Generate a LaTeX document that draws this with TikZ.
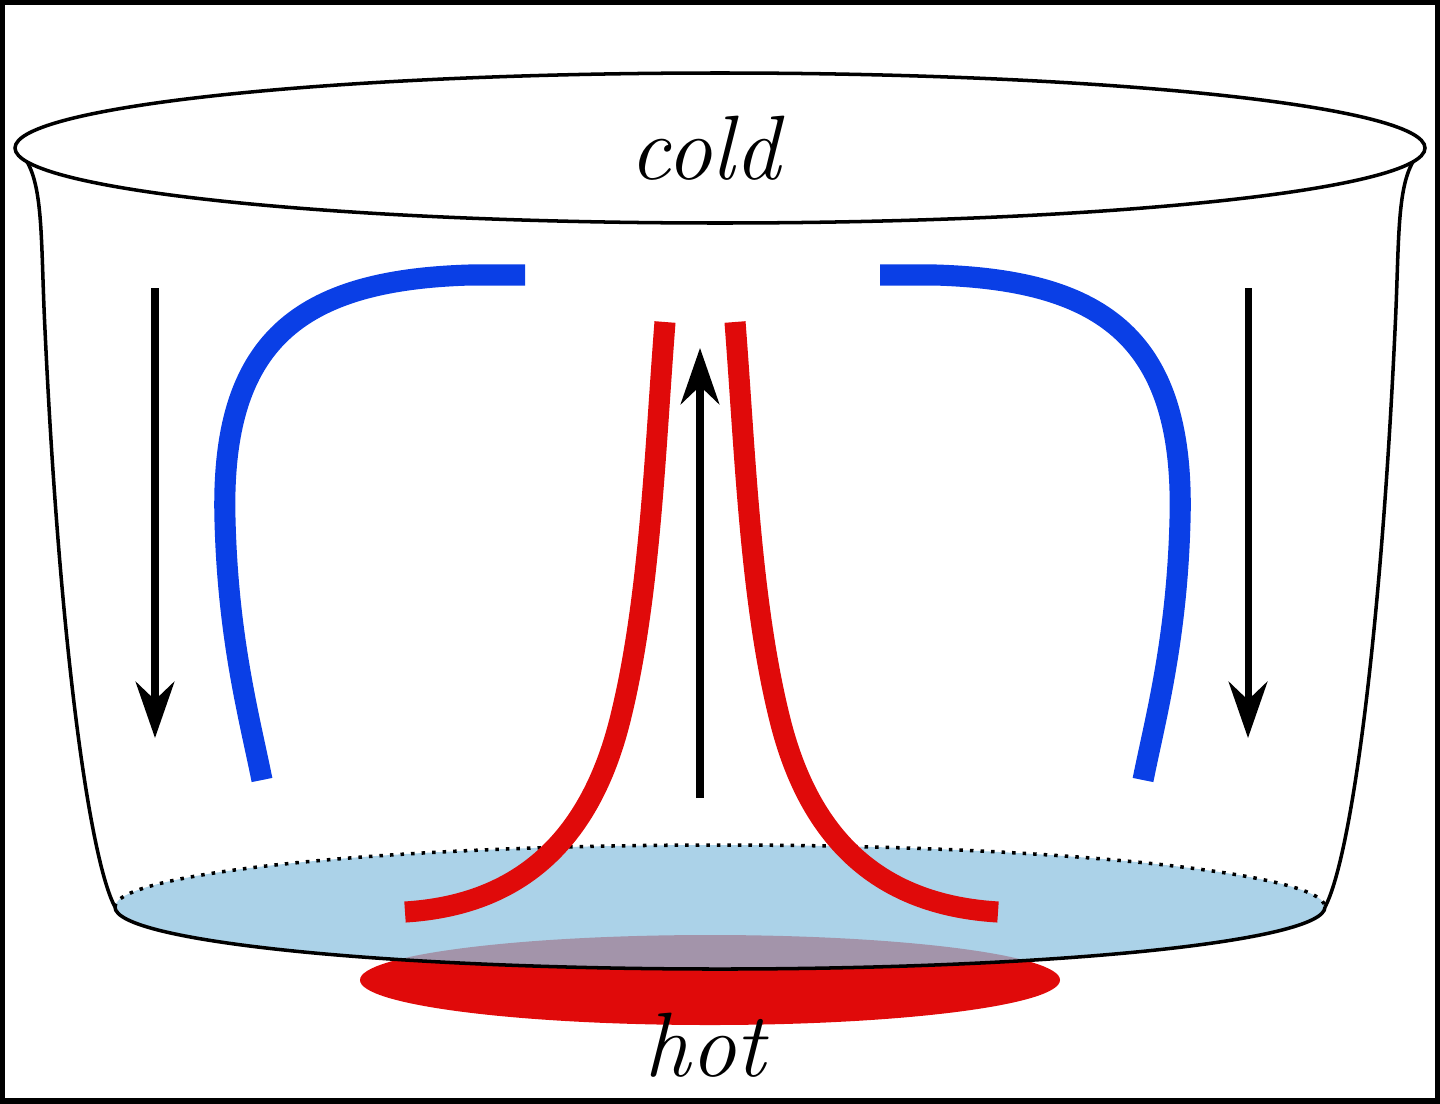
\documentclass[tikz,border=0pt]{standalone}
\usepackage{tikz}
\usetikzlibrary{arrows.meta}
\definecolor{coldblue}{HTML}{0A3FE6}
\definecolor{hotred}{HTML}{E00A0A}
\definecolor{water}{HTML}{8FC3E0}
\tikzset{flowcold/.style={coldblue, line width=6pt},
  flowhot/.style={hotred, line width=6pt},
  motion/.style={line width=2pt, -{Stealth[length=16pt,width=11pt]}}}
\begin{document}
\begin{tikzpicture}[x=0.01cm, y=-0.01cm]
  \useasboundingbox (0,0) rectangle (1440,1103);
  \draw[line width=1.5pt] (2,2) rectangle (1438,1101);
  % heater and bottom of the pot
  \fill[hotred] (710,980) ellipse [x radius=350, y radius=45];
  \fill[water, opacity=0.75] (720,907) ellipse [x radius=605, y radius=62];
  \draw[line width=1pt, dotted] (115,907) arc [start angle=180, end angle=360, x radius=605, y radius=62];
  \draw[line width=1pt] (115,907) arc [start angle=180, end angle=0, x radius=605, y radius=62];
  % walls and rim
  \draw[line width=1pt] (15,148) .. controls (45,170) and (40,230) .. (45,330) .. controls (60,650) and (90,860) .. (115,907);
  \draw[line width=1pt] (1425,148) .. controls (1395,170) and (1400,230) .. (1395,330) .. controls (1380,650) and (1350,860) .. (1325,907);
  \draw[line width=1pt, fill=white] (720,148) ellipse [x radius=705, y radius=75];
  \node (cold) at (705,148) {\fontsize{26}{30}\selectfont\itshape cold};
  \node (hot) at (705,1045) {\fontsize{26}{30}\selectfont\itshape hot};
  % flows
  \draw[flowcold] (525,275) -- (470,275) .. controls (300,280) and (220,340) .. (225,520) .. controls (228,640) and (250,720) .. (262,780);
  \draw[flowcold] (880,275) -- (935,275) .. controls (1105,280) and (1185,340) .. (1180,520) .. controls (1177,640) and (1155,720) .. (1143,780);
  \draw[flowhot] (665,322) .. controls (655,450) and (650,600) .. (620,720) .. controls (590,840) and (520,905) .. (405,912);
  \draw[flowhot] (735,322) .. controls (745,450) and (750,600) .. (780,720) .. controls (810,840) and (880,905) .. (998,912);
  \coordinate (l0) at (155,288); \coordinate (l1) at (155,738);
  \coordinate (r0) at (1248,288); \coordinate (r1) at (1248,738);
  \coordinate (c0) at (700,798); \coordinate (c1) at (700,348);
  \draw[motion] (l0) -- (l1);
  \draw[motion] (r0) -- (r1);
  \draw[motion] (c0) -- (c1);
\end{tikzpicture}
\end{document}
